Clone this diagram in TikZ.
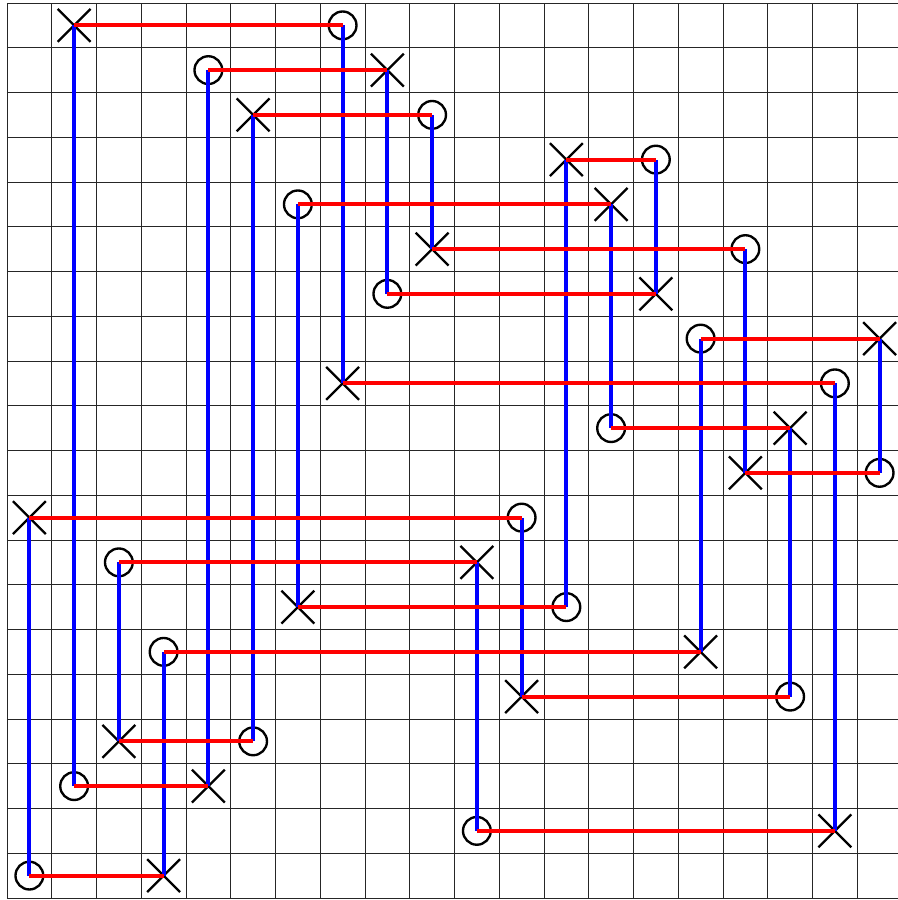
\documentclass[tikz,border=0pt]{standalone}
\usepackage{tikz}
\usetikzlibrary{shapes.misc}

\begin{document}
\begin{tikzpicture}[
  xmark/.style={cross out,draw,line width=1.5pt,minimum size=0.68cm,inner sep=0pt},
  omark/.style={circle,draw,line width=1.5pt,minimum size=0.62cm,inner sep=0pt},
  redline/.style={red,line width=2.6pt},
  blueline/.style={blue,line width=2.6pt}]
\useasboundingbox (-0.156,-0.045) rectangle (19.89,20.067);
\draw[black!85,line width=0.6pt] (0,0) grid (20,20);
% row from top / column of the cross / column of the circle
\def\rows{0/1/7, 1/8/4, 2/5/9, 3/12/14, 4/13/6, 5/9/16, 6/14/8, 7/19/15,
  8/7/18, 9/17/13, 10/16/19, 11/0/11, 12/10/2, 13/6/12, 14/15/3,
  15/11/17, 16/2/5, 17/4/1, 18/18/10, 19/3/0}
\foreach \row/\a/\b in \rows {
  \node[xmark] (x\a) at (\a+0.5,19.5-\row) {};
  \node[omark] (o\b) at (\b+0.5,19.5-\row) {};
}
\foreach \c in {0,...,19}
  \draw[blueline] (x\c.center) -- (o\c.center);
\foreach \row/\a/\b in \rows
  \draw[redline] (x\a.center) -- (o\b.center);
\end{tikzpicture}
\end{document}
